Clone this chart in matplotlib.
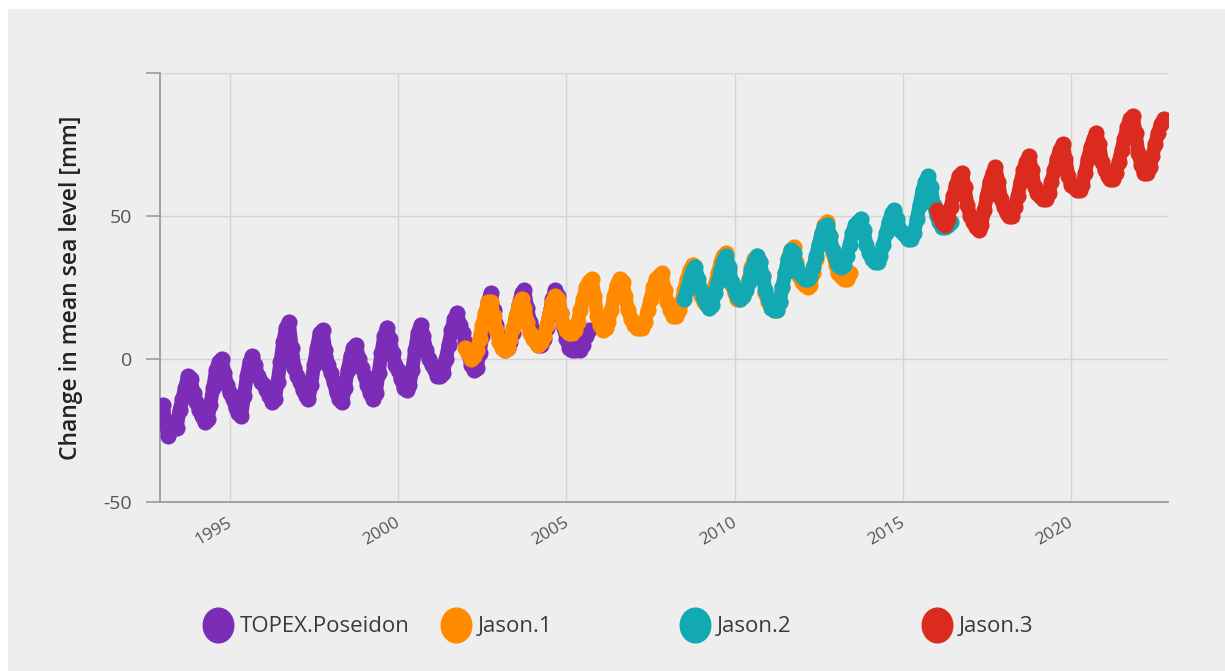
import matplotlib
matplotlib.use("Agg")
import matplotlib.pyplot as plt
import numpy as np
from matplotlib.path import Path
from matplotlib.lines import Line2D
from matplotlib.patches import Rectangle
from matplotlib.transforms import ScaledTranslation

plt.rcParams['font.family'] = ['Open Sans', 'DejaVu Sans']

# monthly mean sea level change [mm], one list per mission
topex_start = 1993.0
topex = [
    -16, -22, -27, -25, -22, -24, -18, -14, -10, -6, -7, -12,   # 1993
    -15, -18, -20, -22, -21, -16, -10, -4, -1, 0, -5, -9,       # 1994
    -12, -14, -17, -19, -20, -13, -6, -1, 1, -2, -6, -8,        # 1995
    -9, -11, -13, -15, -14, -8, -1, 6, 11, 13, 4, -3,           # 1996
    -6, -8, -11, -13, -14, -9, -2, 4, 9, 10, 3, -2,             # 1997
    -5, -8, -12, -14, -15, -10, -4, 1, 4, 5, 0, -3,             # 1998
    -6, -9, -12, -14, -12, -5, 2, 8, 11, 7, 2, -2,              # 1999
    -4, -7, -10, -11, -9, -4, 3, 9, 12, 8, 3, 0,                # 2000
    -2, -4, -6, -6, -5, 0, 5, 10, 14, 16, 12, 9,                # 2001
    6, 2, -2, -4, -3, 2, 8, 14, 20, 23, 17, 12,                 # 2002
    8, 5, 3, 4, 6, 9, 14, 19, 23, 24, 18, 13,                   # 2003
    10, 7, 5, 5, 7, 11, 16, 21, 24, 22, 16, 11,                 # 2004
    7, 4, 3, 3, 4, 3, 5, 8, 10,                                 # 2005
]

jason1_start = 2002.0
jason1 = [
    4, 2, 0, 1, 3, 7, 12, 16, 20, 20, 15, 10,                   # 2002
    6, 4, 3, 4, 7, 11, 15, 19, 21, 18, 13, 9,                   # 2003
    7, 6, 5, 6, 8, 12, 16, 20, 22, 21, 16, 12,                  # 2004
    10, 9, 9, 10, 13, 17, 21, 25, 27, 28, 22, 15,               # 2005
    12, 10, 11, 13, 17, 22, 26, 28, 27, 22, 17, 14,             # 2006
    12, 11, 11, 11, 13, 17, 21, 25, 28, 29, 30, 24,             # 2007
    20, 17, 15, 15, 17, 20, 24, 28, 31, 33, 29, 25,             # 2008
    22, 20, 19, 19, 22, 26, 30, 34, 36, 37, 31, 26,             # 2009
    23, 21, 21, 22, 25, 28, 32, 35, 36, 34, 29, 23,             # 2010
    20, 18, 17, 17, 20, 25, 30, 35, 38, 39, 34, 29,             # 2011
    27, 26, 25, 26, 30, 35, 40, 44, 47, 48, 43, 37,             # 2012
    33, 30, 29, 28, 28, 30,                                     # 2013
]

jason2_start = 2008.5
jason2 = [
    21, 24, 28, 31, 32, 28,                                     # 2008
    24, 21, 19, 18, 19, 23, 27, 31, 34, 36, 32, 27,             # 2009
    24, 22, 21, 22, 24, 27, 31, 34, 36, 34, 29, 24,             # 2010
    21, 18, 17, 17, 20, 25, 30, 35, 38, 37, 33, 30,             # 2011
    29, 28, 28, 29, 32, 36, 40, 44, 46, 47, 43, 38,             # 2012
    35, 33, 32, 33, 36, 40, 44, 47, 48, 49, 45, 40,             # 2013
    37, 35, 34, 34, 36, 40, 44, 48, 51, 52, 49, 45,             # 2014
    44, 43, 42, 42, 44, 49, 54, 59, 62, 64, 60, 54,             # 2015
    50, 48, 46, 46, 47, 48,                                     # 2016
]

jason3_start = 2016.0
jason3 = [
    52, 50, 48, 47, 49, 53, 57, 61, 64, 65, 60, 54,             # 2016
    50, 48, 46, 45, 47, 52, 57, 62, 65, 67, 62, 56,             # 2017
    53, 51, 50, 50, 53, 57, 62, 66, 69, 71, 66, 60,             # 2018
    58, 57, 56, 56, 58, 62, 66, 70, 73, 75, 70, 64,             # 2019
    61, 60, 59, 59, 61, 65, 70, 74, 77, 79, 75, 69,             # 2020
    66, 64, 63, 63, 65, 69, 73, 77, 81, 84, 85, 79,             # 2021
    72, 68, 65, 65, 67, 71, 75, 79, 82, 84,                     # 2022
]

names = ['TOPEX.Poseidon', 'Jason.1', 'Jason.2', 'Jason.3']
colors = ['#7b2db8', '#ff8a00', '#12a9b3', '#db2a1e']
starts = [topex_start, jason1_start, jason2_start, jason3_start]
values = [topex, jason1, jason2, jason3]

year_ticks = [1995, 2000, 2005, 2010, 2015, 2020]
level_ticks = [-50, 0, 50, 100]
level_labels = ['-50', '0', '50', '']

W, H = 1225, 671
bg = '#eeeeee'

fig = plt.figure(figsize=(W / 100, H / 100), dpi=100, facecolor='white')
fig.patches.append(Rectangle((8 / W, 0), 1 - 8 / W, 1 - 9 / H, transform=fig.transFigure,
                             facecolor=bg, edgecolor='none', zorder=-10))

ax = fig.add_axes([160 / W, 1 - 502 / H, 1008 / W, 429 / H])
ax.set_facecolor(bg)

# each mission: a thick round-capped trace with the samples as dots on top
for k, (start, vals, c) in enumerate(zip(starts, values, colors)):
    t = start + np.arange(len(vals)) / 12
    ax.plot(t, vals, color=c, lw=10, solid_capstyle='round', solid_joinstyle='round',
            zorder=3 + k)
    ax.scatter(t, vals, s=135, color=c, linewidths=0, zorder=3 + k)

ax.set_xlim(1992.92, 2022.88)
ax.set_ylim(-50, 100)
ax.set_xticks(year_ticks)
ax.set_yticks(level_ticks)
ax.set_yticklabels(level_labels)
ax.grid(color='#d4d4d4', lw=1)
ax.set_axisbelow(True)

for s in ['top', 'right']:
    ax.spines[s].set_visible(False)
for s in ['left', 'bottom']:
    ax.spines[s].set_color('#9c9c9c')
    ax.spines[s].set_linewidth(1.3)

ax.tick_params(axis='y', length=10, width=1.2, color='#9c9c9c', labelsize=14,
               labelcolor='#555555', pad=10)
ax.tick_params(axis='x', length=0, labelsize=12.5, labelcolor='#555555', pad=9)
shift = ScaledTranslation(-3 / 100, 0, fig.dpi_scale_trans)
for lab in ax.get_xticklabels():
    lab.set_rotation(30)
    lab.set_ha('right')
    lab.set_rotation_mode('anchor')
    lab.set_transform(lab.get_transform() + shift)

ax.set_ylabel('Change in mean sea level [mm]', fontsize=16.5, fontweight='semibold',
              color='#222222', labelpad=15)

# slightly tall oval markers for the legend keys
circ = Path.unit_circle()
oval = Path(circ.vertices * np.array([0.88, 1.0]), circ.codes)

legend_x = [206, 444, 683, 925]
for name, c, x in zip(names, colors, legend_x):
    h = Line2D([], [], ls='none', marker=oval, ms=25, color=c)
    fig.legend(handles=[h], labels=[name], loc='center left',
               bbox_to_anchor=(x / W, 1 - 627 / H), frameon=False, fontsize=16,
               handlelength=1.1, handletextpad=0.4, borderpad=0, borderaxespad=0,
               labelcolor='#3a3a3a')

fig.savefig('out.png', dpi=100, facecolor=fig.get_facecolor())
